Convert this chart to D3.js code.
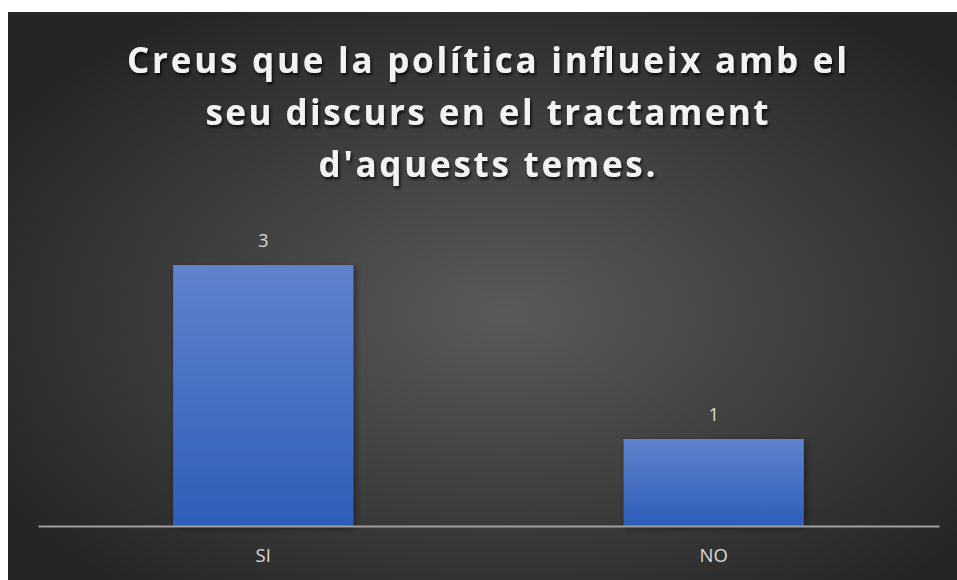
<!DOCTYPE html>
<html>
<head>
<meta charset="utf-8">
<script src="https://cdn.jsdelivr.net/npm/d3@7"></script>
<style>
	html, body { margin: 0; padding: 0; background: #ffffff; }
	svg { display: block; }
</style>
</head>
<body>
<script>
const categories = ["SI", "NO"];
const values = [3, 1];
const titleLines = [
	"Creus que la política influeix amb el",
	"seu discurs en el tractament",
	"d'aquests temes."
];

const svgWidth = 957;
const svgHeight = 580;
const frame = { left: 8, top: 12, width: 958, height: 580 };
const plot = { left: 38, right: 939, bottom: 526 };

const svg = d3.select("body")
	.append("svg")
	.attr("width", svgWidth)
	.attr("height", svgHeight);

const defs = svg.append("defs");

// dark background, lighter in the middle
const bg = defs.append("radialGradient")
	.attr("id", "bg")
	.attr("cx", "52%").attr("cy", "52%").attr("r", "62%");
bg.append("stop").attr("offset", "0%").attr("stop-color", "#5a5a5a");
bg.append("stop").attr("offset", "100%").attr("stop-color", "#252525");

const barFill = defs.append("linearGradient")
	.attr("id", "barFill")
	.attr("x1", 0).attr("y1", 0).attr("x2", 0).attr("y2", 1);
barFill.append("stop").attr("offset", "0%").attr("stop-color", "#6083cd");
barFill.append("stop").attr("offset", "100%").attr("stop-color", "#2e5eb8");

const titleShadow = defs.append("filter").attr("id", "titleShadow")
	.attr("x", "-10%").attr("y", "-30%").attr("width", "120%").attr("height", "160%");
titleShadow.append("feDropShadow")
	.attr("dx", 1.5).attr("dy", 2.5).attr("stdDeviation", 1.8)
	.attr("flood-color", "#000").attr("flood-opacity", 0.75);

const barShadow = defs.append("filter").attr("id", "barShadow")
	.attr("x", "-10%").attr("y", "-10%").attr("width", "130%").attr("height", "130%");
barShadow.append("feDropShadow")
	.attr("dx", 2).attr("dy", 2).attr("stdDeviation", 3)
	.attr("flood-color", "#000").attr("flood-opacity", 0.45);

svg.append("rect")
	.attr("x", frame.left).attr("y", frame.top)
	.attr("width", frame.width).attr("height", frame.height)
	.attr("fill", "url(#bg)");

// title, each line stretched to the width it has in the original
const titleWidths = [720, 563, 337];
svg.append("g")
	.attr("filter", "url(#titleShadow)")
	.selectAll("text")
	.data(titleLines)
	.join("text")
	.attr("x", 487)
	.attr("y", (d, i) => 73 + i * 52)
	.attr("text-anchor", "middle")
	.attr("textLength", (d, i) => titleWidths[i])
	.attr("lengthAdjust", "spacing")
	.attr("fill", "#f2f2f2")
	.style("font-family", "'Open Sans', sans-serif")
	.style("font-weight", "bold")
	.style("font-size", "35px")
	.text((d) => d);

const xScale = d3.scaleBand()
	.domain(categories)
	.range([plot.left, plot.right])
	.paddingInner(0.6)
	.paddingOuter(0.3);

const yScale = d3.scaleLinear()
	.domain([0, 3.5])
	.range([plot.bottom, plot.bottom - 3.5 * 87]);

// bars
svg.append("g")
	.selectAll("rect")
	.data(values)
	.join("rect")
	.attr("x", (d, i) => xScale(categories[i]))
	.attr("y", (d) => yScale(d))
	.attr("width", xScale.bandwidth())
	.attr("height", (d) => yScale(0) - yScale(d))
	.attr("fill", "url(#barFill)")
	.attr("filter", "url(#barShadow)");

// category axis
const xAxis = svg.append("g")
	.attr("transform", `translate(0 ${plot.bottom})`)
	.call(d3.axisBottom(xScale).tickSize(0).tickPadding(23));
xAxis.select(".domain")
	.attr("stroke", "#a0a0a0")
	.attr("stroke-width", 2);
xAxis.selectAll("text")
	.attr("fill", "#d9d9d9")
	.style("font-family", "'Open Sans', sans-serif")
	.style("font-size", "18.5px");

// value labels
svg.append("g")
	.selectAll("text")
	.data(values)
	.join("text")
	.attr("x", (d, i) => xScale(categories[i]) + xScale.bandwidth() / 2)
	.attr("y", (d) => yScale(d) - 18)
	.attr("text-anchor", "middle")
	.attr("fill", "#d9d9d9")
	.style("font-family", "'Open Sans', sans-serif")
	.style("font-size", "18.5px")
	.text((d) => d);
</script>
</body>
</html>
